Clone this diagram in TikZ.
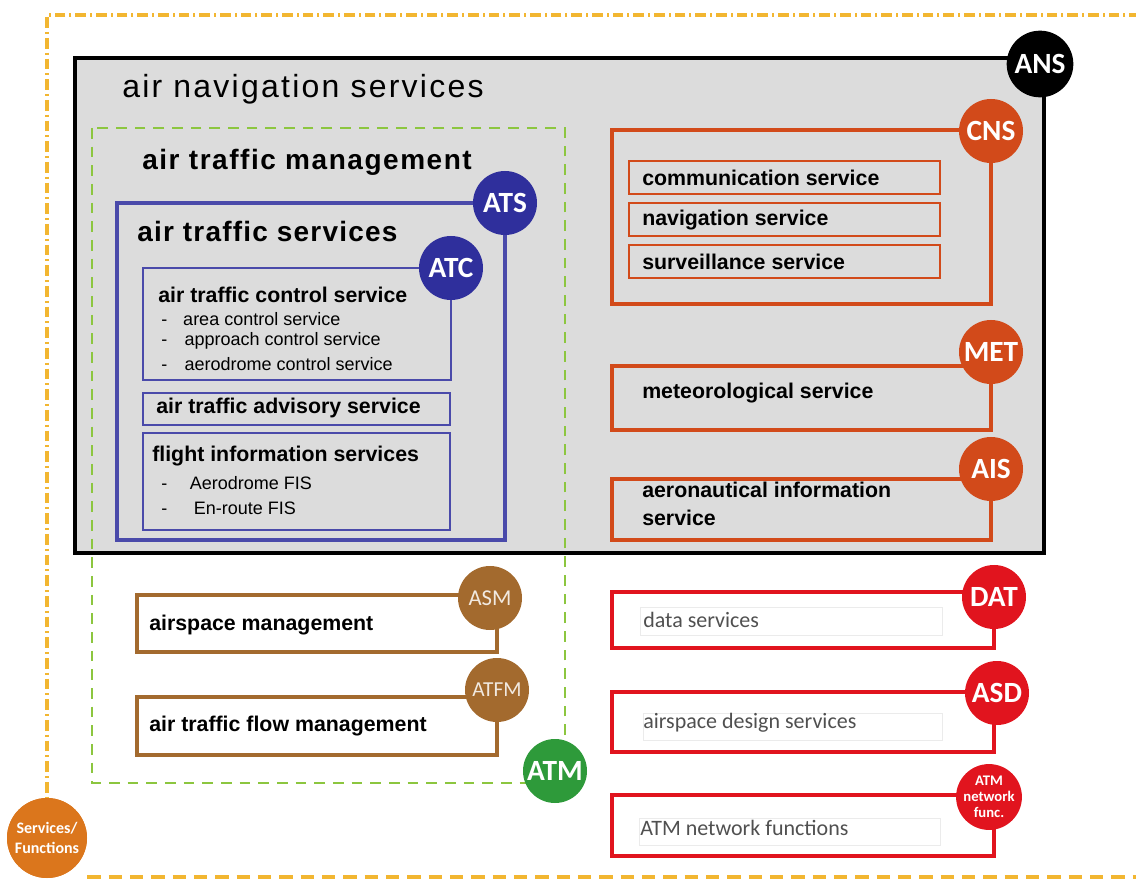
\documentclass[tikz,border=0pt]{standalone}
\usepackage{fontspec}
\setmainfont{Liberation Sans}
\newfontfamily\carl{Carlito}
\newfontfamily\bigspaced[LetterSpace=7]{Liberation Sans}
\newfontfamily\midspaced[LetterSpace=5.5]{Liberation Sans}
\newfontfamily\atsspaced[LetterSpace=4.3]{Liberation Sans}
\definecolor{outerorange}{HTML}{F2B631}
\definecolor{sforange}{HTML}{DB761C}
\definecolor{ansgrey}{HTML}{DCDCDC}
\definecolor{atmgreen}{HTML}{8CC63F}
\definecolor{atmcircle}{HTML}{2E9A3A}
\definecolor{atsblue}{HTML}{2F2F9C}
\definecolor{atsline}{HTML}{4A4AAA}
\definecolor{cnsred}{HTML}{D24A1A}
\definecolor{brownc}{HTML}{A36A2E}
\definecolor{datred}{HTML}{E1141E}
\definecolor{greytext}{HTML}{505050}
\tikzset{
  badge/.style={circle, inner sep=0pt, minimum size=48pt, text=white,
    font=\carl\bfseries\fontsize{22}{22}\selectfont},
  smallbadge/.style={circle, inner sep=0pt, minimum size=46pt, text=white, align=center,
    font=\carl\bfseries\fontsize{11}{12}\selectfont},
  bigtitle/.style={anchor=west, inner sep=0pt, font=\bigspaced\fontsize{24}{28}\selectfont},
  midtitle/.style={anchor=west, inner sep=0pt, font=\midspaced\bfseries\fontsize{21}{24}\selectfont},
  atstitlestyle/.style={anchor=west, inner sep=0pt, font=\atsspaced\bfseries\fontsize{21}{24}\selectfont},
  boxlabel/.style={anchor=west, inner sep=0pt, font=\bfseries\fontsize{16}{21}\selectfont},
  itemlabel/.style={anchor=west, inner sep=0pt, font=\fontsize{13.5}{16}\selectfont},
  greylabel/.style={anchor=west, inner sep=0pt, text=greytext, font=\carl\fontsize{16.5}{18}\selectfont},
  faintbox/.style={draw=black!8, line width=0.6pt},
}
\begin{document}
\begin{tikzpicture}[x=0.75pt,y=-0.75pt]
\useasboundingbox (0,0) rectangle (1136,880);
% outer services/functions frame
\coordinate (otr) at (1140,15);
\coordinate (obr) at (1140,877);
\node[circle, fill=sforange, inner sep=0pt, minimum size=60pt] (sf) at (47,838) {};
\draw[outerorange, line width=2.4pt, dash pattern=on 8pt off 3pt on 1.5pt off 3pt]
  (otr) -- (47,15) -- (sf.north);
\draw[outerorange, line width=3pt, dash pattern=on 10pt off 6pt] (sf.east |- obr) -- (obr);
\node[circle, fill=sforange, inner sep=0pt, minimum size=60pt, text=white, align=center,
  font=\carl\bfseries\fontsize{12}{14.5}\selectfont] (sflabel) at (sf) {Services/\\Functions};

% ANS box
\draw[black, line width=3.5pt, fill=ansgrey] (75,58) rectangle (1044,553);
\node[bigtitle] (anstitle) at (122,89) {air navigation services};

% ATM green dashed box
\draw[atmgreen, line width=2pt, dash pattern=on 8pt off 6pt] (92,128) rectangle (565,783);
\node[midtitle] (atmtitle) at (142,162) {air traffic management};

% ATS box
\draw[atsline, line width=3pt] (117,203) rectangle (505,540);
\node[atstitlestyle] (atstitle) at (137,231) {air traffic services};

% ATC box
\draw[atsline, line width=2.2pt] (143,268) rectangle (451,380);
\node[boxlabel] (atctitle) at (158,295) {air traffic control service};
\node[itemlabel] (atc1) at (161,319) {-\hspace{12pt}area control service};
\node[itemlabel] (atc2) at (161,341) {-\hspace{13pt}approach control service};
\node[itemlabel] (atc3) at (161,364) {-\hspace{13pt}aerodrome control service};

\draw[atsline, line width=2.2pt] (143,393) rectangle (450,425);
\node[boxlabel] (adv) at (156,408) {air traffic advisory service};

\draw[atsline, line width=2.2pt] (143,433) rectangle (450,530);
\node[boxlabel] (fis) at (152,456) {flight information services};
\node[itemlabel] (fis1) at (161,483) {-\hspace{17pt}Aerodrome FIS};
\node[itemlabel] (fis2) at (161,508) {-\hspace{20pt}En-route FIS};

% CNS
\draw[cnsred, line width=3pt] (612,130) rectangle (991,304);
\draw[cnsred, line width=2.2pt] (629,161) rectangle (940,194);
\node[boxlabel] (com) at (642,178) {communication service};
\draw[cnsred, line width=2.2pt] (629,203) rectangle (940,236);
\node[boxlabel] (nav) at (642,220) {navigation service};
\draw[cnsred, line width=2.2pt] (629,245) rectangle (940,278);
\node[boxlabel] (sur) at (642,262) {surveillance service};

% MET
\draw[cnsred, line width=3pt] (612,366) rectangle (991,430);
\node[boxlabel] (met) at (642,393) {meteorological service};

% AIS
\draw[cnsred, line width=3pt] (612,479) rectangle (991,540);
\node[boxlabel, align=left] (ais) at (642,504) {aeronautical information\\service};

% ASM, ATFM
\draw[brownc, line width=3pt] (137,595) rectangle (497,652);
\node[boxlabel] (asm) at (149,625) {airspace management};
\draw[brownc, line width=3pt] (137,697) rectangle (497,755);
\node[boxlabel] (atfm) at (149,726) {air traffic flow management};

% DAT, ASD, network
\draw[datred, line width=2.4pt] (612,592) rectangle (994,648);
\draw[faintbox] (640,607) rectangle (942,635);
\node[greylabel] (dat) at (643,620) {data services};
\draw[datred, line width=2.4pt] (612,692) rectangle (994,752);
\draw[faintbox] (643,713) rectangle (942,740);
\node[greylabel] (asd) at (643,723) {airspace design services};
\draw[datred, line width=2.4pt] (612,795) rectangle (994,856);
\draw[faintbox] (639,818) rectangle (940,845);
\node[greylabel] (net) at (640,828) {ATM network functions};

% badges
\node[badge, fill=black, minimum size=50pt] (ans) at (1040,64) {ANS};
\node[badge, fill=atmcircle] (atm) at (555,771) {ATM};
\node[badge, fill=atsblue] (ats) at (505,203) {ATS};
\node[badge, fill=atsblue] (atc) at (451,268) {ATC};
\node[badge, fill=cnsred] (cns) at (991,131) {CNS};
\node[badge, fill=cnsred] (metb) at (991,352) {MET};
\node[badge, fill=cnsred] (aisb) at (991,469) {AIS};
\node[badge, fill=brownc, text=white!85!brownc, font=\carl\fontsize{17}{17}\selectfont] (asmb) at (490,598) {ASM};
\node[badge, fill=brownc, text=white!85!brownc, font=\carl\fontsize{16}{16}\selectfont] (atfmb) at (497,690) {ATFM};
\node[badge, fill=datred] (datb) at (994,597) {DAT};
\node[badge, fill=datred] (asdb) at (997,693) {ASD};
\node[smallbadge, fill=datred] (netb) at (989,797) {ATM\\network\\func.};
\end{tikzpicture}
\end{document}
